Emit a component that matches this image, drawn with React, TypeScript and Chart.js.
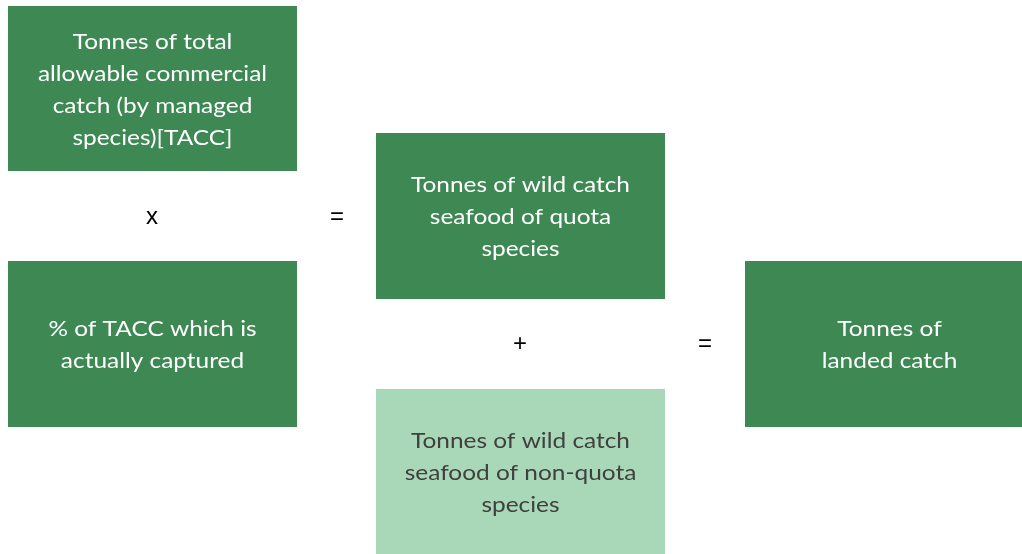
import React, { useEffect, useRef } from "react";
import { Chart, registerables } from "chart.js";
Chart.register(...registerables);

// Diagram boxes (in diagram units, equal to page pixels)
const boxLabels: string[][] = [
  ["Tonnes of total", "allowable commercial", "catch (by managed", "species)[TACC]"],
  ["% of TACC which is", "actually captured"],
  ["Tonnes of wild catch", "seafood of quota", "species"],
  ["Tonnes of wild catch", "seafood of non-quota", "species"],
  ["Tonnes of", "landed catch"],
];
const boxX0 = [8, 8, 376, 376, 745];
const boxX1 = [297, 297, 665, 665, 1034];
const boxY0 = [6, 261, 133, 389, 261];
const boxY1 = [171, 427, 299, 554, 427];
const boxKind = ["dark", "dark", "dark", "light", "dark"];

const opSymbols = ["x", "=", "+", "="];
const opX = [152, 337, 520, 705];
const opY = [217, 217, 344, 344];

const FILL: Record<string, string> = { dark: "#3E8853", light: "#A8D8B8" };
const TEXT: Record<string, string> = { dark: "#FFFFFF", light: "#404040" };

const diagramPlugin = {
  id: "diagram",
  afterDatasetsDraw(chart: any) {
    const ctx = chart.ctx;
    const xs = chart.scales.x;
    const ys = chart.scales.y;
    ctx.save();
    for (let i = 0; i < boxLabels.length; i++) {
      const x0 = xs.getPixelForValue(boxX0[i]);
      const x1 = xs.getPixelForValue(boxX1[i]);
      const y0 = ys.getPixelForValue(boxY0[i]);
      const y1 = ys.getPixelForValue(boxY1[i]);
      ctx.fillStyle = FILL[boxKind[i]];
      ctx.fillRect(x0, y0, x1 - x0, y1 - y0);
      ctx.fillStyle = TEXT[boxKind[i]];
      ctx.font = "22px Lato";
      ctx.textAlign = "center";
      ctx.textBaseline = "middle";
      const lines = boxLabels[i];
      const lh = 32;
      const cx = (x0 + x1) / 2;
      const cy = (y0 + y1) / 2 + 1;
      lines.forEach((ln, k) => {
        ctx.save();
        ctx.translate(cx, cy + (k - (lines.length - 1) / 2) * lh);
        ctx.scale(1.11, 1);
        ctx.fillText(ln, 0, 0);
        ctx.restore();
      });
    }
    ctx.fillStyle = "#000000";
    ctx.font = "24px 'Liberation Sans'";
    ctx.textAlign = "center";
    ctx.textBaseline = "middle";
    for (let j = 0; j < opSymbols.length; j++) {
      ctx.fillText(opSymbols[j], xs.getPixelForValue(opX[j]), ys.getPixelForValue(opY[j]));
    }
    ctx.restore();
  },
};

export default function App() {
  const ref = useRef<HTMLCanvasElement | null>(null);
  useEffect(() => {
    if (!ref.current) return;
    const chart = new Chart(ref.current, {
      type: "scatter",
      data: { datasets: [{ data: [], pointRadius: 0 }] },
      options: {
        animation: false,
        responsive: false,
        maintainAspectRatio: false,
        layout: { padding: 0 },
        plugins: { legend: { display: false }, tooltip: { enabled: false } },
        scales: {
          x: { type: "linear", min: 0, max: 1022, display: false },
          y: { type: "linear", min: 0, max: 554, reverse: true, display: false },
        },
      },
      plugins: [diagramPlugin],
    });
    return () => chart.destroy();
  }, []);
  return (
    <div style={{ position: "fixed", left: 0, top: 0, width: 1022, height: 554, background: "#fff" }}>
      <canvas ref={ref} width={1022} height={554} />
    </div>
  );
}
